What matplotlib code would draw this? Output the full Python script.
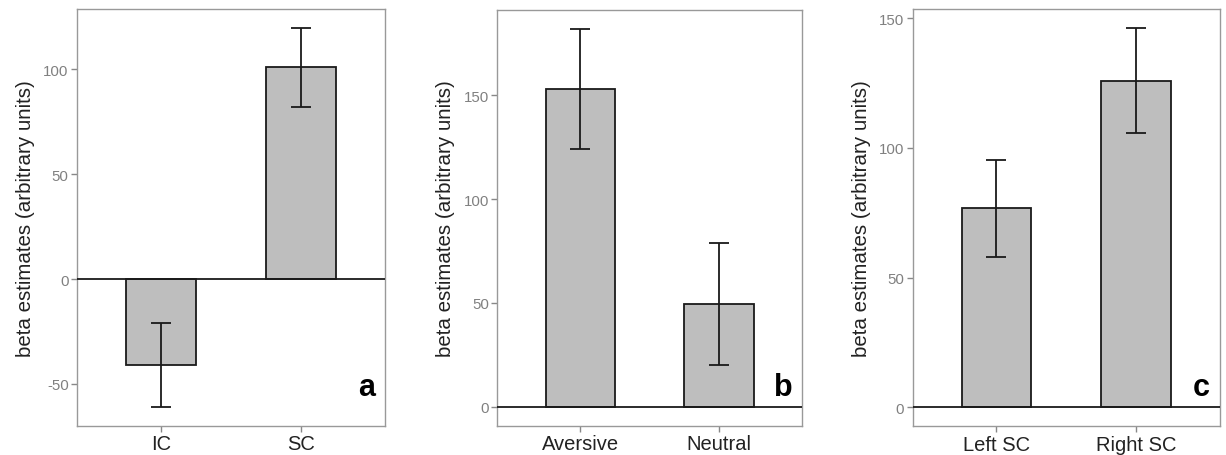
import numpy as np
import matplotlib
matplotlib.use("Agg")
import matplotlib.pyplot as plt

plt.rcParams['font.family'] = ['Liberation Sans', 'DejaVu Sans']

# panel data: categories, mean beta estimates, error bar half-widths
cats_a = ["IC", "SC"]
vals_a = [-41, 101]
errs_a = [20, 18.7]

cats_b = ["Aversive", "Neutral"]
vals_b = [153, 49.5]
errs_b = [29, 29.4]

cats_c = ["Left SC", "Right SC"]
vals_c = [76.7, 125.9]
errs_c = [18.7, 20.3]

yticks_a = [-50, 0, 50, 100]
yticks_b = [0, 50, 100, 150]
yticks_c = [0, 50, 100, 150]

panels = [
    ("a", cats_a, vals_a, errs_a, yticks_a, [0.0628, 0.0636, 0.2512, 0.914]),
    ("b", cats_b, vals_b, errs_b, yticks_b, [0.4056, 0.0643, 0.2488, 0.9116]),
    ("c", cats_c, vals_c, errs_c, yticks_c, [0.7444, 0.0629, 0.2507, 0.915]),
]

fig = plt.figure(figsize=(12.26, 4.56), dpi=100)

for letter, cats, vals, errs, yticks, pos in panels:
    ax = fig.add_axes(pos)
    x = np.arange(1, len(cats) + 1)
    vals = np.array(vals)
    errs = np.array(errs)

    ax.bar(x, vals, width=0.5, color="#bebebe", edgecolor="#1a1a1a",
           linewidth=1.3, zorder=2)
    ax.errorbar(x, vals, yerr=errs, fmt="none", ecolor="#1a1a1a",
                elinewidth=1.3, capsize=7, capthick=1.3, zorder=3)
    ax.axhline(0, color="#1a1a1a", linewidth=1.3, zorder=4)

    # ggplot-like expansion: 5% on y (incl. 0 and error bars), 0.6 on x
    lo = min(0, (vals - errs).min())
    hi = max(0, (vals + errs).max())
    pad = 0.05 * (hi - lo)
    ax.set_ylim(lo - pad, hi + pad)
    ax.set_xlim(0.4, len(cats) + 0.6)

    ax.set_xticks(x)
    ax.set_xticklabels(cats, fontsize=14.5, color="#222222")
    ax.set_yticks(yticks)
    ax.set_yticklabels([str(t) for t in yticks], fontsize=10.8, color="#808080")
    ax.tick_params(axis="both", length=4, width=1, color="#888888", pad=2)

    for s in ax.spines.values():
        s.set_color("#999999")
        s.set_linewidth(1)

    ax.set_ylabel("beta estimates (arbitrary units)", fontsize=14.8,
                  color="#222222", labelpad=6)

    ax.text(1 - 10 / 308, 31 / 417, letter, transform=ax.transAxes,
            ha="right", va="baseline", fontsize=22, fontweight="bold",
            color="black", zorder=5)

fig.savefig("out.png", dpi=100)
